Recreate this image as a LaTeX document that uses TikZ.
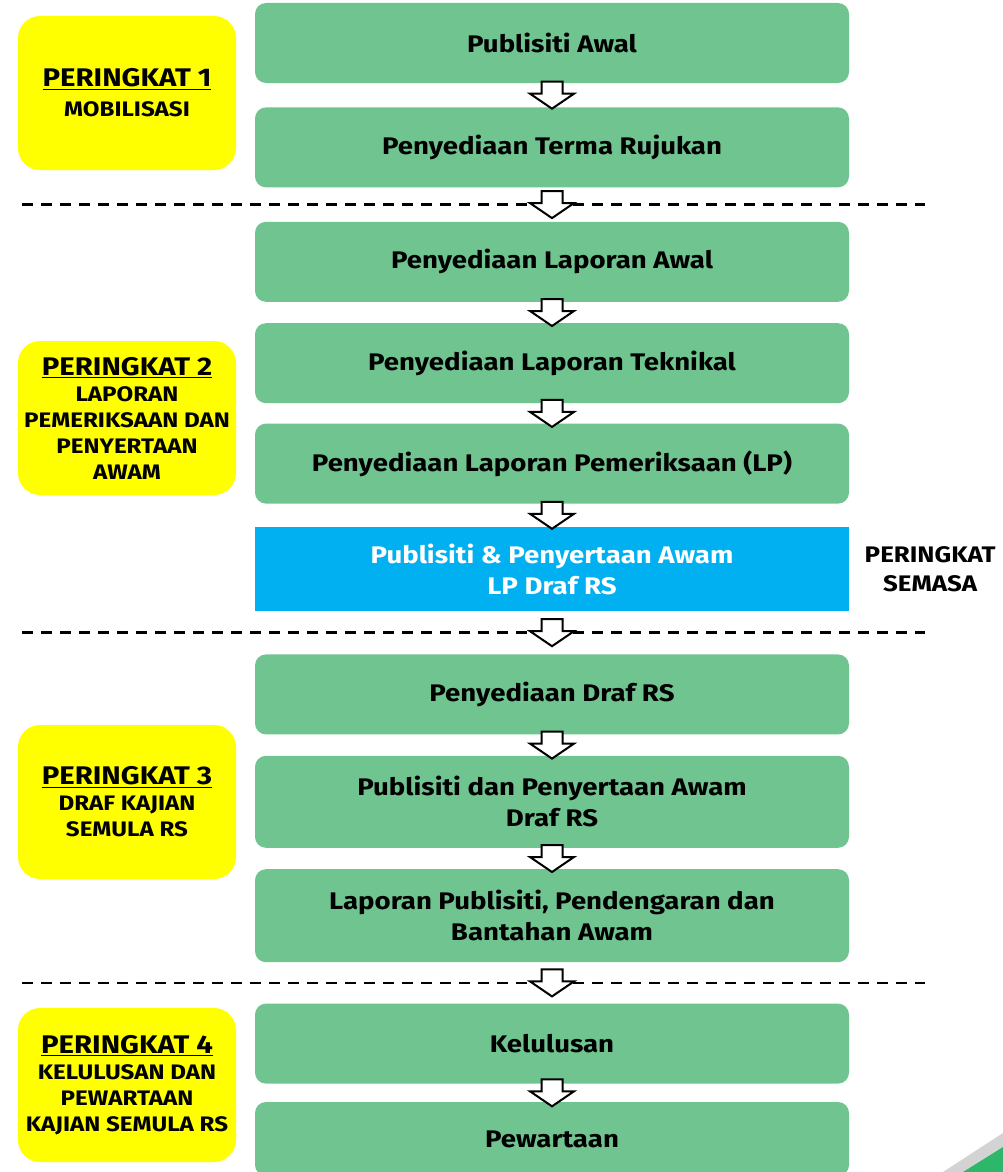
\documentclass[tikz,border=0pt]{standalone}
\usepackage{fontspec}
\setmainfont[FakeStretch=1.15]{Fira Sans}
\usetikzlibrary{positioning,calc}

\definecolor{stepgreen}{HTML}{70C48F}
\definecolor{stageyellow}{HTML}{FFFF00}
\definecolor{nowblue}{HTML}{00B0F0}
\definecolor{cornergray}{HTML}{D3D3D3}
\definecolor{cornergreen}{HTML}{2EB66B}

\tikzset{
  stepbox/.style={rectangle, rounded corners=11pt, fill=stepgreen, minimum width=594pt,
    minimum height=80pt, inner sep=0pt, align=center, font=\bfseries\fontsize{24}{31}\selectfont},
  nowbox/.style={stepbox, rounded corners=0pt, fill=nowblue, text=white, minimum height=84pt},
  stagebox/.style={rectangle, rounded corners=22pt, fill=stageyellow, minimum width=218pt,
    minimum height=154pt, inner sep=0pt, align=center, font=\bfseries\fontsize{21}{26}\selectfont},
  flowarrow/.pic={
    \draw[line width=2pt, fill=white, line join=miter]
      (-10.5,-13.5) -- (10.5,-13.5) -- (10.5,-1.5) -- (22,-1.5) -- (0,13.5)
      -- (-22,-1.5) -- (-10.5,-1.5) -- cycle;},
  sepline/.style={draw, line width=2.5pt, dash pattern=on 11pt off 8pt},
}
\newcommand{\stagehead}[1]{{\fontsize{25.5}{28}\selectfont\underline{#1}}}

\begin{document}
\begin{tikzpicture}[x=1pt,y=-1pt]
  \useasboundingbox (0,0) rectangle (1003,1172);

  % Steps
  \node[stepbox] (pawal) at (552,43) {Publisiti Awal};
  \node[stepbox, below=24pt of pawal] (terma) {Penyediaan Terma Rujukan};
  \node[stepbox, below=34pt of terma] (lawal) {Penyediaan Laporan Awal};
  \node[stepbox, below=21pt of lawal] (ltek) {Penyediaan Laporan Teknikal};
  \node[stepbox, below=20pt of ltek] (lp) {Penyediaan Laporan Pemeriksaan (LP)};
  \node[nowbox, below=23pt of lp] (publp) {Publisiti \& Penyertaan Awam\\LP Draf RS};
  \node[stepbox, below=43pt of publp] (drafrs) {Penyediaan Draf RS};
  \node[stepbox, below=21pt of drafrs, minimum height=92pt] (pubrs) {Publisiti dan Penyertaan Awam\\Draf RS};
  \node[stepbox, below=21pt of pubrs, minimum height=93pt] (lapub) {Laporan Publisiti, Pendengaran dan\\Bantahan Awam};
  \node[stepbox, below=41pt of lapub] (lulus) {Kelulusan};
  \node[stepbox, below=18pt of lulus, minimum height=74pt] (warta) {Pewartaan};

  \node[right=12pt of publp, align=center, font=\bfseries\fontsize{22.5}{29}\selectfont] (semasa) {PERINGKAT\\SEMASA};

  % Stages
  \node[stagebox] (stage1) at (127,93) {\stagehead{PERINGKAT 1}\\[4pt]MOBILISASI};
  \node[stagebox] (stage2) at (127,418) {\stagehead{PERINGKAT 2}\\LAPORAN\\PEMERIKSAAN DAN\\PENYERTAAN\\AWAM};
  \node[stagebox] (stage3) at (127,802) {\stagehead{PERINGKAT 3}\\DRAF KAJIAN\\SEMULA RS};
  \node[stagebox] (stage4) at (127,1085) {\stagehead{PERINGKAT 4}\\KELULUSAN DAN\\PEWARTAAN\\KAJIAN SEMULA RS};

  % Separators
  \coordinate (cut1) at ($(terma.south)!0.5!(lawal.north)$);
  \coordinate (cut2) at ($(publp.south)!0.5!(drafrs.north)$);
  \coordinate (cut3) at ($(lapub.south)!0.5!(lulus.north)$);
  \foreach \c in {cut1,cut2,cut3}
    \draw[sepline] ([xshift=-530pt]\c) -- ([xshift=373pt]\c);

  % Arrows
  \foreach \a/\b in {pawal/terma,terma/lawal,lawal/ltek,ltek/lp,lp/publp,publp/drafrs,
      drafrs/pubrs,pubrs/lapub,lapub/lulus,lulus/warta}
    \pic (arr-\b) at ($(\a.south)!0.5!(\b.north)$) {flowarrow};

  % Corner
  \fill[cornergray] (943,1172) -- (1003,1133) -- (1003,1147) -- (963,1172) -- cycle;
  \fill[cornergreen] (963,1172) -- (1003,1147) -- (1003,1172) -- cycle;
\end{tikzpicture}
\end{document}
